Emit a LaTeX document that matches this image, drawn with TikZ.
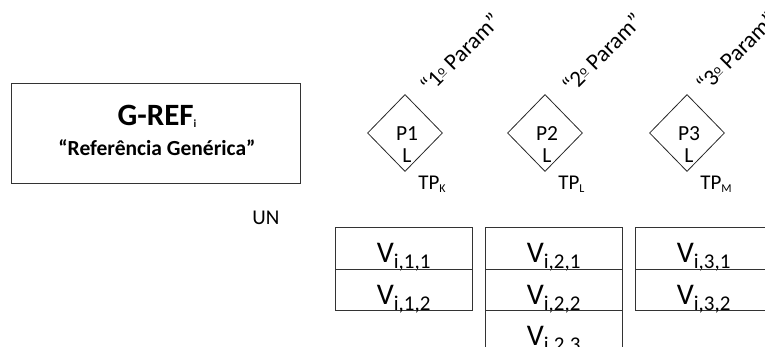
\documentclass[tikz,border=0pt]{standalone}
\usepackage{fontspec}
\setmainfont{Carlito}
\usetikzlibrary{shapes.geometric}

% ordinal mark, raised and underlined
\newcommand{\ordo}{\raisebox{5pt}{\fontsize{13}{13}\selectfont\underline{o}}}

\begin{document}
\begin{tikzpicture}[x=1pt, y=-1pt, line width=0.8pt,
    box/.style={draw=black!80, rectangle, inner sep=0pt},
    cell/.style={box, minimum width=137pt, minimum height=41.5pt, anchor=north west,
      text height=29.5pt, text depth=0pt, font=\fontsize{30}{32}\selectfont},
    param/.style={draw=black!85, diamond, minimum width=75pt, minimum height=77pt, inner sep=0pt},
    ptext/.style={align=center, inner sep=0pt, font=\fontsize{21.5}{22}\selectfont},
    tag/.style={anchor=base west, inner sep=0pt, font=\fontsize{21}{22}\selectfont},
    pname/.style={rotate=45, inner sep=0pt, font=\fontsize{23}{25}\selectfont}]
    \useasboundingbox (0,0) rectangle (765,347);

    % Generic reference
    \node[box, minimum width=289pt, minimum height=100pt] (gref) at (155.5,133) {};
    \node[anchor=base, inner sep=0pt, font=\fontsize{31}{33}\selectfont\bfseries] (greftitle) at (157,126)
      {G-REF\raisebox{-2pt}{\fontsize{11}{11}\selectfont i}};
    \node[anchor=base, inner sep=0pt, font=\fontsize{21.5}{23}\selectfont\bfseries] (grefname) at (157,156)
      {“Referência Genérica”};

    \node[tag] (un) at (252,225) {UN};

    % Parameters with their types
    \foreach \i/\x/\t in {1/405/K, 2/545/L, 3/687/M} {
      \node[param] (p\i) at (\x,133) {};
      \node[ptext] (p\i text) at (\x+2,144.5) {P\i\\L};
      \node[tag] (tp\i) at (\x+13,190) {TP\raisebox{-3pt}{\fontsize{12}{12}\selectfont\t}};
    }
    \node[pname] (pname1) at (460,53) {“1\ordo{} Param”};
    \node[pname] (pname2) at (602,53) {“2\ordo{} Param”};
    \node[pname] (pname3) at (736,52) {“3\ordo{} Param”};

    % Values
    \foreach \c/\x/\n in {1/335/2, 2/485/3, 3/635/2}
      \foreach \r in {1,...,\n}
        \node[cell] (v\c\r) at (\x,{227+41.5*(\r-1)}) {V\textsubscript{i,\c,\r}};
\end{tikzpicture}
\end{document}
